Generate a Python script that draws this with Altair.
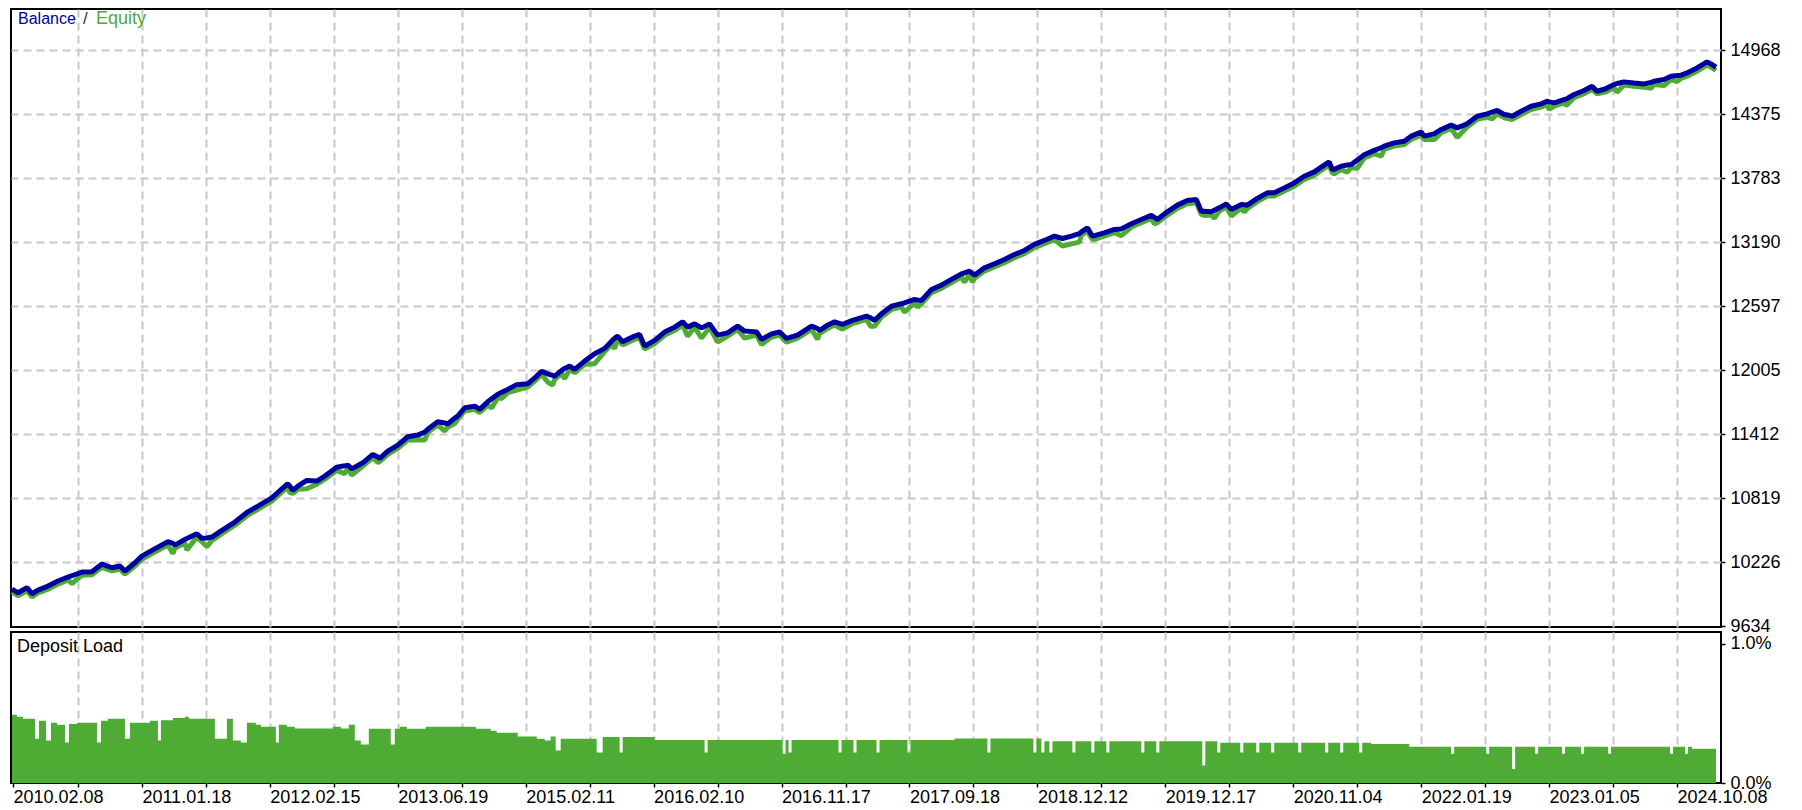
import altair as alt
import pandas as pd

# ---------------- data ----------------
deal = [1, 7, 16, 21, 27, 37, 47, 57, 61, 71,
        81, 91, 101, 109, 114, 124, 131, 141, 157, 162,
        164, 174, 176, 186, 191, 196, 201, 211, 224, 237,
        247, 261, 271, 277, 279, 282, 287, 296, 306, 314,
        326, 334, 337, 341, 352, 362, 367, 369, 377, 387,
        397, 401, 407, 414, 417, 427, 434, 437, 444, 447,
        454, 464, 469, 477, 481, 487, 491, 497, 506, 517,
        526, 531, 537, 542, 544, 551, 554, 559, 564, 574,
        584, 594, 601, 604, 607, 612, 624, 629, 634, 644,
        654, 664, 672, 677, 684, 691, 699, 707, 717, 727,
        734, 746, 751, 761, 769, 776, 787, 801, 807, 809,
        817, 824, 832, 842, 856, 860, 864, 871, 881, 891,
        894, 904, 907, 911, 921, 931, 941, 951, 954, 959,
        962, 964, 974, 984, 994, 1004, 1014, 1024, 1034, 1044,
        1052, 1061, 1069, 1071, 1077, 1082, 1084, 1094, 1104, 1111,
        1121, 1131, 1141, 1144, 1147, 1157, 1167, 1177, 1186, 1191,
        1194, 1201, 1204, 1209, 1216, 1221, 1231, 1234, 1237, 1247,
        1257, 1264, 1274, 1284, 1294, 1304, 1311, 1319, 1322, 1324,
        1331, 1337, 1341, 1347, 1354, 1364, 1371, 1374, 1384, 1394,
        1401, 1411, 1414, 1424, 1431, 1441, 1447, 1457, 1467, 1477,
        1482, 1487, 1494, 1499, 1502, 1511, 1521, 1531, 1537, 1539,
        1544, 1554, 1556, 1564, 1574, 1582, 1587, 1596, 1604, 1607,
        1614, 1624, 1634, 1641, 1644, 1654, 1661, 1667, 1671, 1677,
        1687, 1697, 1702, 1706]

balance = [9977, 9942, 9989, 9933, 9967, 10004, 10051, 10088, 10100, 10134,
           10137, 10208, 10174, 10190, 10143, 10220, 10282, 10335, 10415, 10400,
           10384, 10437, 10445, 10489, 10446, 10450, 10458, 10520, 10597, 10692,
           10745, 10822, 10905, 10952, 10930, 10891, 10930, 10983, 10977, 11023,
           11106, 11118, 11125, 11090, 11146, 11224, 11200, 11187, 11255, 11310,
           11387, 11395, 11403, 11430, 11456, 11526, 11515, 11507, 11560, 11579,
           11656, 11671, 11641, 11711, 11740, 11780, 11800, 11826, 11870, 11878,
           11949, 11995, 11970, 11955, 11949, 12002, 12020, 12042, 12011, 12088,
           12156, 12206, 12273, 12300, 12320, 12267, 12320, 12335, 12227, 12280,
           12357, 12403, 12452, 12403, 12433, 12396, 12433, 12329, 12350, 12412,
           12366, 12359, 12289, 12341, 12359, 12298, 12329, 12412, 12390, 12372,
           12421, 12452, 12428, 12465, 12505, 12490, 12465, 12526, 12597, 12619,
           12628, 12659, 12655, 12650, 12752, 12792, 12845, 12896, 12905, 12921,
           12900, 12884, 12952, 12989, 13030, 13076, 13113, 13169, 13206, 13246,
           13224, 13246, 13270, 13285, 13322, 13246, 13250, 13276, 13308, 13313,
           13360, 13400, 13440, 13420, 13400, 13471, 13533, 13576, 13585, 13477,
           13477, 13471, 13485, 13508, 13545, 13493, 13539, 13536, 13533, 13595,
           13647, 13647, 13693, 13739, 13801, 13841, 13885, 13934, 13863, 13865,
           13894, 13905, 13910, 13950, 14000, 14040, 14065, 14079, 14110, 14125,
           14172, 14211, 14172, 14193, 14234, 14274, 14249, 14286, 14357, 14378,
           14395, 14410, 14373, 14365, 14357, 14403, 14449, 14471, 14496, 14490,
           14480, 14511, 14515, 14558, 14595, 14635, 14588, 14613, 14650, 14660,
           14675, 14665, 14656, 14670, 14681, 14697, 14727, 14733, 14737, 14758,
           14804, 14860, 14836, 14811]

equity = [9950, 9915, 9960, 9905, 9940, 9975, 10022, 10060, 10028, 10105,
          10108, 10178, 10145, 10160, 10115, 10190, 10252, 10305, 10385, 10305,
          10355, 10405, 10338, 10460, 10415, 10370, 10428, 10490, 10568, 10662,
          10715, 10792, 10875, 10920, 10870, 10862, 10900, 10906, 10948, 10994,
          11076, 11046, 11095, 11032, 11116, 11194, 11148, 11158, 11225, 11280,
          11357, 11357, 11360, 11357, 11426, 11496, 11440, 11478, 11510, 11550,
          11626, 11641, 11612, 11680, 11653, 11750, 11741, 11796, 11819, 11848,
          11920, 11965, 11894, 11866, 11920, 11972, 11926, 12012, 11980, 12058,
          12064, 12176, 12243, 12204, 12290, 12238, 12290, 12305, 12200, 12250,
          12327, 12373, 12422, 12319, 12403, 12301, 12403, 12264, 12320, 12382,
          12301, 12330, 12241, 12311, 12330, 12264, 12300, 12382, 12292, 12342,
          12391, 12422, 12384, 12435, 12475, 12412, 12412, 12496, 12567, 12589,
          12541, 12629, 12588, 12620, 12722, 12762, 12815, 12866, 12819, 12891,
          12819, 12855, 12922, 12960, 13000, 13046, 13083, 13139, 13176, 13216,
          13153, 13174, 13190, 13255, 13292, 13216, 13215, 13246, 13278, 13250,
          13330, 13370, 13410, 13360, 13370, 13441, 13503, 13546, 13555, 13447,
          13437, 13441, 13412, 13478, 13515, 13431, 13509, 13468, 13503, 13565,
          13617, 13617, 13663, 13709, 13771, 13811, 13855, 13904, 13833, 13823,
          13864, 13838, 13880, 13875, 13970, 14010, 13986, 14049, 14080, 14095,
          14142, 14181, 14142, 14140, 14204, 14244, 14160, 14256, 14327, 14348,
          14332, 14380, 14343, 14332, 14327, 14373, 14419, 14441, 14466, 14419,
          14450, 14481, 14455, 14528, 14565, 14605, 14564, 14583, 14620, 14580,
          14645, 14635, 14626, 14616, 14651, 14641, 14697, 14678, 14707, 14728,
          14774, 14830, 14806, 14780]

load_start = [1, 6, 12, 24, 28, 35, 40, 46, 54, 58,
              66, 86, 90, 97, 114, 119, 139, 147, 150, 162,
              174, 178, 204, 216, 222, 230, 236, 245, 250, 265,
              268, 276, 284, 322, 330, 338, 344, 350, 358, 380,
              384, 389, 396, 415, 465, 480, 486, 507, 526, 534,
              540, 545, 550, 586, 592, 609, 612, 644, 694, 697,
              772, 775, 778, 781, 828, 831, 843, 846, 866, 869,
              897, 900, 944, 977, 980, 1023, 1026, 1031, 1034, 1039,
              1042, 1062, 1065, 1081, 1084, 1096, 1099, 1131, 1134, 1146,
              1149, 1192, 1195, 1207, 1210, 1230, 1233, 1246, 1249, 1261,
              1264, 1288, 1291, 1315, 1318, 1330, 1333, 1349, 1352, 1361,
              1399, 1441, 1444, 1476, 1479, 1502, 1505, 1525, 1528, 1552,
              1555, 1571, 1574, 1598, 1601, 1660, 1663, 1675, 1678, 1682]
load_end = 1706
load_value = [0.491, 0.476, 0.462, 0.319, 0.447, 0.305, 0.434, 0.419, 0.291, 0.424,
              0.434, 0.291, 0.447, 0.462, 0.319, 0.434, 0.447, 0.305, 0.452, 0.467,
              0.476, 0.462, 0.319, 0.462, 0.305, 0.291, 0.434, 0.419, 0.405, 0.291,
              0.419, 0.405, 0.392, 0.405, 0.392, 0.419, 0.305, 0.276, 0.390, 0.276,
              0.390, 0.405, 0.390, 0.405, 0.390, 0.376, 0.362, 0.334, 0.319, 0.305,
              0.334, 0.234, 0.319, 0.219, 0.33, 0.22, 0.33, 0.31, 0.22, 0.31,
              0.21, 0.31, 0.22, 0.31, 0.22, 0.31, 0.22, 0.31, 0.22, 0.31,
              0.22, 0.31, 0.32, 0.22, 0.32, 0.22, 0.32, 0.22, 0.30, 0.22,
              0.30, 0.22, 0.30, 0.22, 0.30, 0.22, 0.30, 0.22, 0.30, 0.22,
              0.30, 0.125, 0.30, 0.22, 0.29, 0.22, 0.29, 0.22, 0.29, 0.22,
              0.29, 0.22, 0.29, 0.22, 0.29, 0.22, 0.29, 0.22, 0.29, 0.28,
              0.26, 0.21, 0.26, 0.21, 0.26, 0.10, 0.26, 0.21, 0.26, 0.21,
              0.26, 0.21, 0.26, 0.21, 0.26, 0.21, 0.26, 0.21, 0.26, 0.247]

y_ticks = [9634, 10226, 10819, 11412, 12005, 12597, 13190, 13783, 14375, 14968]
grid_x = [67, 131, 195, 259, 323, 387, 451, 515, 579, 643, 707, 771, 835,
          899, 963, 1027, 1091, 1155, 1219, 1283, 1347, 1411, 1475, 1539, 1603, 1667]
label_x = [2, 131, 259, 387, 515, 643, 771, 899, 1027, 1155, 1283, 1411, 1539, 1667]
date_labels = ["2010.02.08", "2011.01.18", "2012.02.15", "2013.06.19", "2015.02.11",
               "2016.02.10", "2016.11.17", "2017.09.18", "2018.12.12", "2019.12.17",
               "2020.11.04", "2022.01.19", "2023.01.05", "2024.10.08"]
load_ticks = [0.0, 1.0]
legend_labels = ["Balance", "/", "Equity"]

# ---------------- styling ----------------
FONT = "Liberation Sans"
FS = 18
BLUE = "#0000A0"
GREEN = "#4EAB34"
GRID = "#C8C8C8"
DASH = [8, 5]
W = 1710

assert len(deal) == len(balance) == len(equity)
assert len(load_start) == len(load_value)

df = pd.DataFrame({"deal": deal, "balance": balance, "equity": equity})
# step outline of the deposit-load histogram (last bar closed at load_end)
df_load = pd.DataFrame({"pos": load_start + [load_end],
                        "load": load_value + [load_value[-1]]})

xs = alt.Scale(domain=[0, 1711], nice=False, zero=False)
x_axis_main = alt.Axis(values=grid_x, grid=True, gridColor=GRID, gridDash=DASH,
                       gridWidth=2, labels=False, ticks=False, domain=False, title=None)
y_scale = alt.Scale(domain=[9625, 15350], nice=False, zero=False)
y_axis = alt.Axis(orient="right", values=y_ticks, format="d", grid=True, gridColor=GRID,
                  gridDash=DASH, gridWidth=2,
                  gridOpacity={"condition": {"test": "datum.value < 9700", "value": 0}, "value": 1},
                  tickSize=4, tickColor="black", tickWidth=1.5,
                  domain=False, labelFont=FONT, labelFontSize=FS, labelColor="black",
                  labelPadding=5, labelOverlap=False, labelBound=False, title=None)

eq_line = alt.Chart(df).mark_line(color=GREEN, strokeWidth=5, strokeJoin="bevel").encode(
    x=alt.X("deal:Q", scale=xs, axis=x_axis_main),
    y=alt.Y("equity:Q", scale=y_scale, axis=y_axis))
bal_line = alt.Chart(df).mark_line(color=BLUE, strokeWidth=5, strokeJoin="bevel").encode(
    x=alt.X("deal:Q", scale=xs, axis=x_axis_main),
    y=alt.Y("balance:Q", scale=y_scale, axis=y_axis))


def label(txt, color, x, y, size=FS):
    return alt.Chart(pd.DataFrame({"t": [txt]})).mark_text(
        align="left", baseline="middle", font=FONT, fontSize=size, color=color
    ).encode(x=alt.value(x), y=alt.value(y), text="t:N")


t_bal = label(legend_labels[0], BLUE, 7, 10, 16)
t_sl = label(legend_labels[1], "#333333", 72, 10, 17)
t_eq = label(legend_labels[2], GREEN, 85, 10, 18)

main = alt.layer(eq_line, bal_line, t_bal, t_sl, t_eq).properties(width=W, height=618)

# lower panel
pos_arr = "[" + ",".join(str(v) for v in label_x) + "]"
lab_arr = "[" + ",".join("'" + s + "'" for s in date_labels) + "]"
x_label_expr = ("indexof(" + pos_arr + ", datum.value) >= 0 ? " + lab_arr +
                "[indexof(" + pos_arr + ", datum.value)] : ''")

x_low_axis = alt.Axis(values=sorted(set(grid_x + label_x)), grid=True, gridColor=GRID,
                      gridDash=DASH, gridWidth=2,
                      gridOpacity={"condition": {"test": "datum.value < 10", "value": 0}, "value": 1},
                      ticks=True, tickSize=4, tickColor="black", tickWidth=1.5,
                      domain=False, labelExpr=x_label_expr, labelAlign="left",
                      labelFont=FONT, labelFontSize=FS, labelColor="black", labelPadding=1,
                      labelOverlap=False, labelBound=False, labelFlush=False, title=None)
y_low_axis = alt.Axis(orient="right", values=load_ticks, grid=False, tickSize=4,
                      tickColor="black", tickWidth=1.5, domain=False,
                      labelExpr="format(datum.value, '.1f') + '%'",
                      labelFont=FONT, labelFontSize=FS, labelColor="black", labelPadding=5,
                      labelOverlap=False, labelBound=False, title=None)

bars = alt.Chart(df_load).mark_area(color=GREEN, interpolate="step-after", opacity=1).encode(
    x=alt.X("pos:Q", scale=xs, axis=x_low_axis),
    y=alt.Y("load:Q", scale=alt.Scale(domain=[0, 1.086], nice=False, zero=True), axis=y_low_axis),
)
t_dep = label("Deposit Load", "black", 6, 15)
lower = alt.layer(bars, t_dep).properties(width=W, height=151)

chart = alt.vconcat(main, lower, spacing=5, bounds="flush").properties(
    padding={"left": 0, "top": 0, "right": 10, "bottom": 0}
).configure_view(stroke="black", strokeWidth=2)

chart.save("out.html", embed_options={"renderer": "svg", "actions": False})
